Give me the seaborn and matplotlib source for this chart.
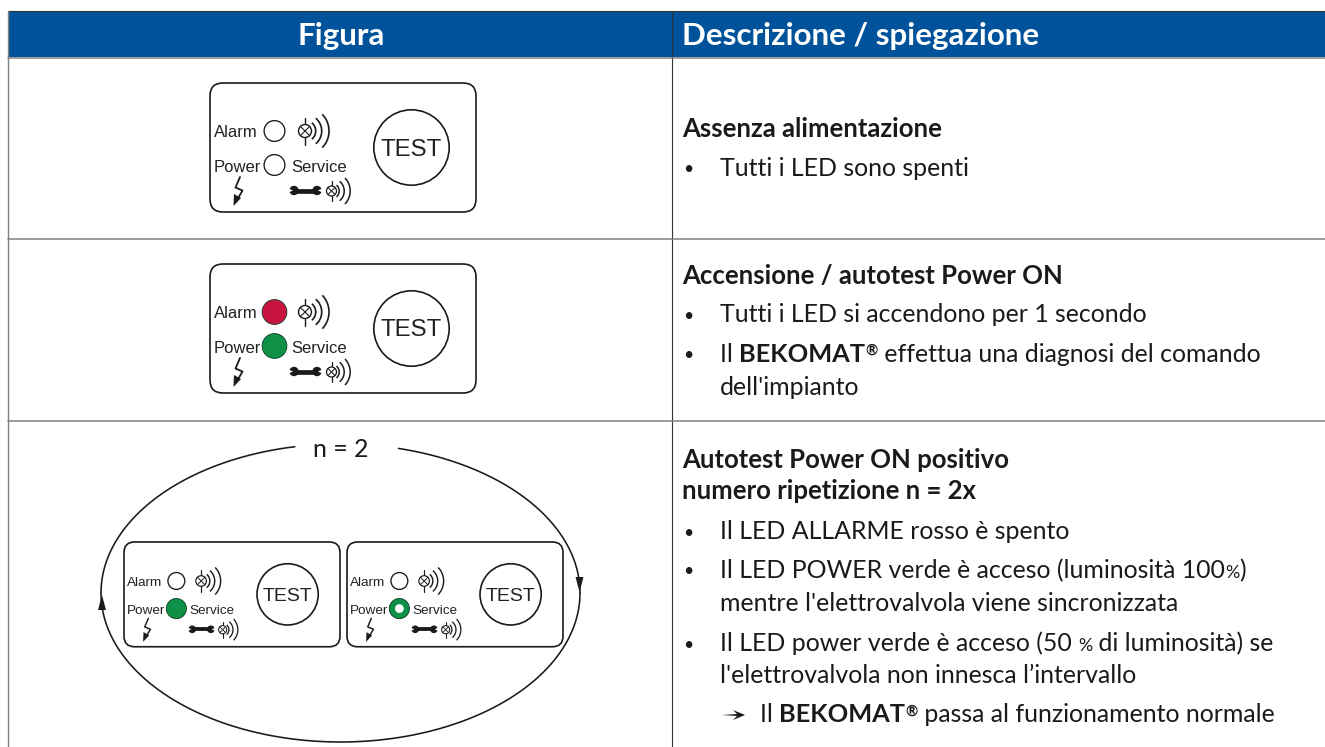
import numpy as np
import pandas as pd
import matplotlib
matplotlib.use("Agg")
import matplotlib.pyplot as plt
from matplotlib.patches import FancyBboxPatch, Circle, Polygon
import seaborn as sns

# ---- data ----
headers = ["Figura", "Descrizione / spiegazione"]
panel_x = [210, 210, 124, 347]
panel_y = [83, 264, 542, 542]
panel_scale = [1, 1, 0.812, 0.812]
alarm_state = ["off", "red", "off", "off"]
power_state = ["off", "green", "green", "half"]
panel_labels = ["Alarm", "Power", "Service", "TEST"]
cycle_label = "n = 2"

BLUE = "#00539B"
GRID = "#808080"
INK = "#1A1A1A"
RED = "#C8143F"
GREEN = "#0E9146"
BODY = 17.9
TITLE = 18.5
FONT = ["Lato", "DejaVu Sans"]

desc_lines = [
    (682, 137, [("Assenza alimentazione", "title")]),
    (720, 175.5, [("Tutti i LED sono spenti", False)]),
    (682, 284, [("Accensione / autotest Power ON", "title")]),
    (720, 322.5, [("Tutti i LED si accendono per 1 secondo", False)]),
    (720, 362, [("Il ", False), ("BEKOMAT", True), ("®", "sup"), (" effettua una diagnosi del comando", False)]),
    (720, 395, [("dell'impianto", False)]),
    (682, 468, [("Autotest Power ON positivo", "title")]),
    (682, 499, [("numero ripetizione n = 2x", "title")]),
    (720, 539, [("Il LED ALLARME rosso è spento", False)]),
    (720, 578, [("Il LED POWER verde è acceso (luminosità 100", False), ("%", "small"), (")", False)]),
    (720, 611, [("mentre l'elettrovalvola viene sincronizzata", False)]),
    (720, 651, [("Il LED power verde è acceso (50 ", False), ("%", "small"), (" di luminosità) se", False)]),
    (720, 683, [("l'elettrovalvola non innesca l’intervallo", False)]),
    (760, 722.5, [("Il ", False), ("BEKOMAT", True), ("®", "sup"), (" passa al funzionamento normale", False)]),
]
bullet_y = [175.5, 322.5, 362, 539, 578, 651]

# ---- figure ----
sns.set_theme(style="white")
plt.rcParams["font.family"] = FONT
fig = plt.figure(figsize=(13.25, 7.47), dpi=100, facecolor="white")
ax = fig.add_axes([0, 0, 1, 1])
ax.set_xlim(0, 1325)
ax.set_ylim(747, 0)
ax.set_axis_off()
PT = 0.72

# table
ax.fill_between([8, 1325], 11, 57, color=BLUE, lw=0, zorder=1)
ax.plot([8, 1325], [11, 11], color="#333333", lw=0.8, zorder=2)
ax.plot([671.5, 671.5], [11, 747], color="#333333", lw=0.8, zorder=2)
ax.plot([8, 8], [11, 747], color=GRID, lw=1, zorder=2)
for yy in (57.5, 238.5, 420.5):
    ax.plot([8, 1325], [yy, yy], color=GRID, lw=1.1, zorder=2)
ax.text(341, 45.5, headers[0], color="white", fontsize=22.6, fontweight="bold", ha="center", va="baseline", zorder=3)
ax.text(682, 45.5, headers[1], color="white", fontsize=22.6, fontweight="bold", ha="left", va="baseline", zorder=3)


def runs(x, y, parts):
    r = fig.canvas.get_renderer()
    for txt, kind in parts:
        size, w, dy = BODY, "normal", 0
        if kind is True:
            w = "bold"
            size = 18.3
        elif kind == "title":
            w = "bold"
            size = TITLE
        elif kind == "sup":
            size, w, dy = BODY * 0.6, "bold", -7
        elif kind == "small":
            size = BODY * 0.72
        t = ax.text(x, y + dy, txt, fontsize=size, fontweight=w, color=INK, va="baseline", ha="left", zorder=3)
        adv, _, _ = r.get_text_width_height_descent(txt.replace(" ", "\u00a0"), t.get_fontproperties(), False)
        x += adv


for xx, yy, parts in desc_lines:
    runs(xx, yy, parts)
for yy in bullet_y:
    ax.text(683, yy - 1.5, "•", fontsize=12.5, color=INK, va="baseline", ha="left", zorder=3)
ax.add_patch(Polygon([(722, 715), (737, 714), (733, 710), (745, 715), (733, 720), (737, 716)], fc=INK, ec="none", zorder=3))


def arcs(cx, cy, radii, half_deg, s, lw):
    for rad, h in zip(radii, half_deg):
        th = np.radians(np.linspace(-h, h, 30))
        ax.plot(cx + rad * s * np.cos(th), cy + rad * s * np.sin(th), color=INK, lw=lw, solid_capstyle="butt", zorder=4)


def lamp(cx, cy, r, stem, radii, s, lw):
    ax.add_patch(Circle((cx, cy), r * s, fc="white", ec=INK, lw=lw, zorder=4))
    ax.plot([cx, cx], [cy - stem * s, cy + stem * s], color=INK, lw=lw, zorder=3.5)
    d = r * s * 0.707
    ax.plot([cx - d, cx + d], [cy - d, cy + d], color=INK, lw=lw * 0.8, zorder=5)
    ax.plot([cx - d, cx + d], [cy + d, cy - d], color=INK, lw=lw * 0.8, zorder=5)
    arcs(cx, cy, radii, [50, 50, 44], s, lw * 1.2)


def panel(x0, y0, s):
    X = lambda v: x0 + v * s
    Y = lambda v: y0 + v * s
    lw = 1.2
    ax.add_patch(FancyBboxPatch((x0, y0), 266 * s, 129 * s, boxstyle=f"round,pad=0,rounding_size={13*s}",
                                fc="white", ec=INK, lw=lw, zorder=3))
    fs = 16.6 * PT * s
    kw = dict(family="Liberation Sans", color="#222222", va="baseline", zorder=5)
    ax.text(X(3.8), Y(54), panel_labels[0], fontsize=fs, ha="left", **kw)
    ax.text(X(3.8), Y(89), panel_labels[1], fontsize=fs, ha="left", **kw)
    ax.text(X(80.8), Y(89), panel_labels[2], fontsize=fs, ha="left", **kw)
    ax.add_patch(Circle((X(201.5), Y(64.5)), 37.7 * s, fc="white", ec=INK, lw=lw, zorder=4))
    ax.text(X(201.5), Y(72.5), panel_labels[3], fontsize=24 * PT * s, ha="center", **kw)
    lamp(X(95), Y(48), 6.5, 13.5, (10.7, 16.7, 24), s, 1.0 * max(s, .85))
    lamp(X(121.5), Y(108), 5, 10, (7.7, 12.7, 18.7), s, 0.9 * max(s, .85))
    # wrench
    ax.plot([X(84), X(107)], [Y(107.5), Y(107.5)], color=INK, lw=3.4 * s, zorder=4, solid_capstyle="butt")
    for ex, sign in ((84, 1), (107, -1)):
        ax.add_patch(Circle((X(ex), Y(107.5)), 4.7 * s, fc=INK, ec="none", zorder=4))
        ax.add_patch(Polygon([(X(ex - 5.4 * sign), Y(105.5)), (X(ex - 1 * sign), Y(107.5)), (X(ex - 5.4 * sign), Y(109.5))],
                             fc="white", ec="none", zorder=5))
    # lightning
    ax.plot([X(30), X(25.5), X(32.5), X(27)], [Y(94), Y(104.5), Y(107.5), Y(117)], color=INK, lw=1.3 * s, zorder=4)
    ax.add_patch(Polygon([(X(23.5), Y(123)), (X(24), Y(111)), (X(31), Y(115))], fc=INK, ec="none", zorder=4))


for px, py, ps in zip(panel_x, panel_y, panel_scale):
    panel(px, py, ps)

# LEDs
rows = []
for px, py, ps, a, p in zip(panel_x, panel_y, panel_scale, alarm_state, power_state):
    rows.append(dict(x=px + 64.5 * ps, y=py + 48 * ps, state=a, scale=ps))
    rows.append(dict(x=px + 64.5 * ps, y=py + 82 * ps, state=p, scale=ps))
leds = pd.DataFrame(rows)
leds["r"] = [10.4 if st == "off" else 12.4 for st in leds["state"]]
leds["area"] = (2 * leds["r"] * leds["scale"] * PT) ** 2
off = leds[leds["state"] == "off"]
on = leds[leds["state"] != "off"]
palette = {"red": RED, "green": GREEN, "half": GREEN}
sns.scatterplot(data=off, x="x", y="y", size="area", sizes={a: a for a in off["area"].unique()},
                color="white", edgecolor=INK, linewidth=0.95, legend=False, ax=ax, zorder=6)
sns.scatterplot(data=on, x="x", y="y", hue="state", palette=palette, size="area",
                sizes={a: a for a in on["area"].unique()}, edgecolor="#0b3a20", linewidth=0.6,
                legend=False, ax=ax, zorder=6)
half = leds[leds["state"] == "half"]
sns.scatterplot(data=half, x="x", y="y", color="white", s=(2 * 4.4 * PT) ** 2, edgecolor="none", legend=False, ax=ax, zorder=7)
ax.set_xlim(0, 1325)
ax.set_ylim(747, 0)
ax.set_axis_off()

# cycle
cx, cy, a, b = 340.5, 593, 239.5, 149
th_right = np.radians(np.linspace(-76, 0, 120))
th_bottom = np.radians(np.linspace(0, 180, 200))
th_left = np.radians(np.linspace(180, 259, 120))
for th in (th_right, th_bottom, th_left):
    pts = pd.DataFrame({"x": cx + a * np.cos(th), "y": cy + b * np.sin(th)})
    sns.lineplot(data=pts, x="x", y="y", sort=False, estimator=None, color=INK, lw=1.15, ax=ax, legend=False, zorder=3)
ax.add_patch(Polygon([(579.5, 592), (575.5, 577), (583.5, 577)], fc=INK, ec="none", zorder=4))
ax.add_patch(Polygon([(102, 595), (98, 610), (106, 610)], fc=INK, ec="none", zorder=4))
ax.text(341, 457, cycle_label, fontsize=BODY, color=INK, ha="center", va="baseline", zorder=5)
ax.set_xlim(0, 1325)
ax.set_ylim(747, 0)
ax.set_axis_off()

fig.savefig("out.png", dpi=100, facecolor="white")
